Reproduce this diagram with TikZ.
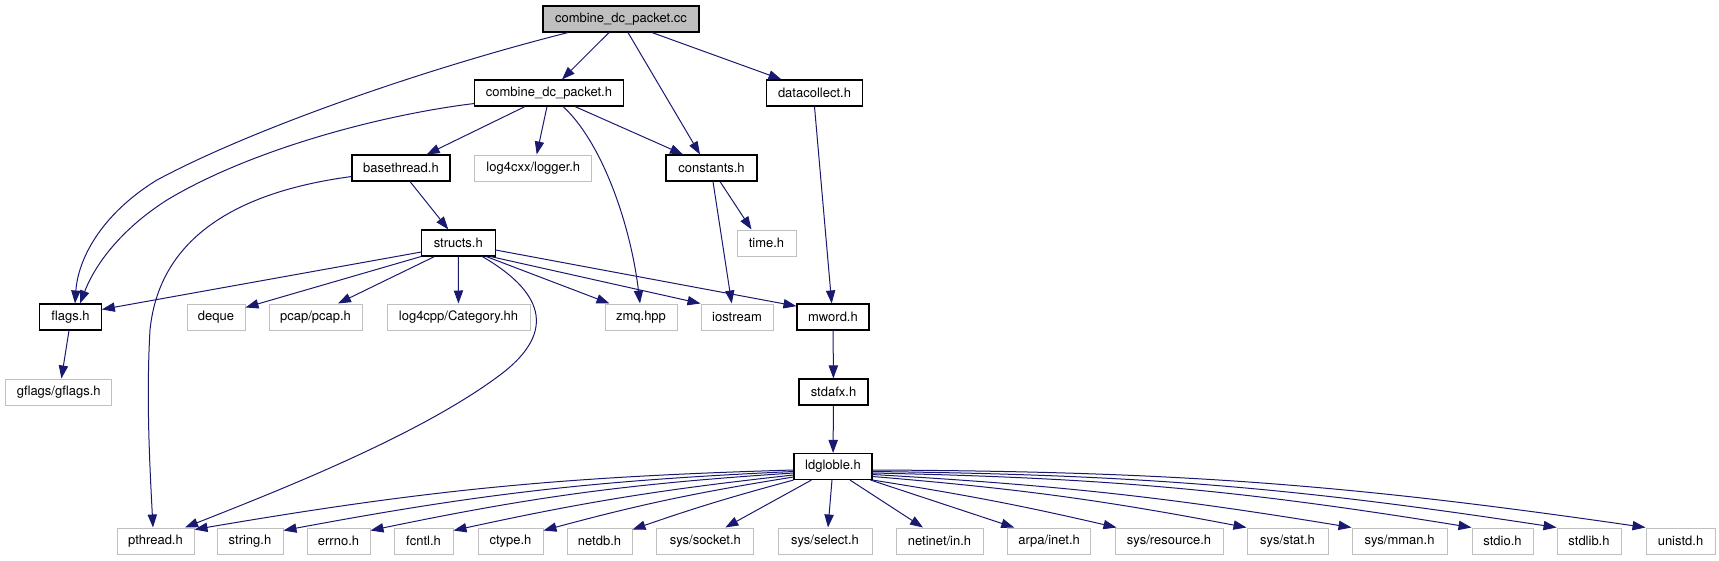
\documentclass[tikz,border=0pt]{standalone}
\usepackage{fontspec}
\setmainfont{TeX Gyre Heros}
\usetikzlibrary{arrows.meta}
\definecolor{edgeblue}{HTML}{191970}
\definecolor{extgrey}{HTML}{BFBFBF}
\begin{document}
\begin{tikzpicture}[x=1pt,y=-1pt,
  box/.style={draw=black, line width=1.1pt, minimum height=26pt, inner sep=0pt,
    font=\fontsize{13}{15}\selectfont, anchor=center},
  ext/.style={box, draw=extgrey, line width=1pt},
  topbox/.style={box, fill=extgrey},
  e/.style={draw=edgeblue, line width=1pt, -{Triangle[length=13pt,width=9.3pt]}},
]
\useasboundingbox (0,0) rectangle (1719,560);
% row 1
\node[topbox, minimum width=156pt] (cc) at (621,19) {combine\_dc\_packet.cc};
% row 2
\node[box, minimum width=149pt] (cdh) at (549,93) {combine\_dc\_packet.h};
\node[box, minimum width=96pt] (dc) at (814.5,93) {datacollect.h};
% row 3
\node[box, minimum width=98pt] (bt) at (401,168) {basethread.h};
\node[ext, minimum width=117pt] (l4x) at (533.3,168) {log4cxx/logger.h};
\node[box, minimum width=91pt] (con) at (711.5,168) {constants.h};
% row 4
\node[box, minimum width=73.5pt] (st) at (458.3,243) {structs.h};
\node[ext, minimum width=59pt] (tm) at (766.5,243) {time.h};
% row 5
\node[box, minimum width=61.6pt] (fl) at (70.5,317) {flags.h};
\node[ext, minimum width=58pt] (dq) at (216,317) {deque};
\node[ext, minimum width=93pt] (pc) at (315.5,317) {pcap/pcap.h};
\node[ext, minimum width=143pt] (l4c) at (458.5,317) {log4cpp/Category.hh};
\node[ext, minimum width=72pt] (zmq) at (641,317) {zmq.hpp};
\node[ext, minimum width=72pt] (ios) at (737,317) {iostream};
\node[box, minimum width=72pt] (mw) at (833,317) {mword.h};
% row 6
\node[ext, minimum width=106.5pt] (gf) at (58.7,392) {gflags/gflags.h};
\node[box, minimum width=69pt] (sfx) at (833.5,392) {stdafx.h};
% row 7
\node[box, minimum width=78pt] (ld) at (833,466.5) {ldgloble.h};
% row 8
\node[ext, minimum width=77pt] (pt) at (155.5,541) {pthread.h};
\node[ext, minimum width=66pt] (str) at (250,541) {string.h};
\node[ext, minimum width=63pt] (err) at (338.5,541) {errno.h};
\node[ext, minimum width=59pt] (fc) at (423.5,541) {fcntl.h};
\node[ext, minimum width=65pt] (ct) at (510.5,541) {ctype.h};
\node[ext, minimum width=65pt] (nd) at (599.5,541) {netdb.h};
\node[ext, minimum width=97pt] (sk) at (705.3,541) {sys/socket.h};
\node[ext, minimum width=94pt] (sel) at (825,541) {sys/select.h};
\node[ext, minimum width=87pt] (ni) at (939.5,541) {netinet/in.h};
\node[ext, minimum width=83pt] (ai) at (1049.2,541) {arpa/inet.h};
\node[ext, minimum width=108pt] (res) at (1169,541) {sys/resource.h};
\node[ext, minimum width=81pt] (sst) at (1287.5,541) {sys/stat.h};
\node[ext, minimum width=95pt] (mm) at (1399.5,541) {sys/mman.h};
\node[ext, minimum width=61pt] (sio) at (1502.5,541) {stdio.h};
\node[ext, minimum width=64pt] (slb) at (1589,541) {stdlib.h};
\node[ext, minimum width=69pt] (un) at (1680.5,541) {unistd.h};

% edges from combine_dc_packet.cc
\draw[e] ([xshift=-53pt]cc.south) .. controls (420,70) and (250,130) .. (157,180)
   .. controls (100,215) and (78,260) .. ([xshift=4.5pt]fl.north);
\draw[e] ([xshift=-12pt]cc.south) -- ([xshift=13pt]cdh.north);
\draw[e] ([xshift=7pt]cc.south) -- ([xshift=-11.5pt]con.north);
\draw[e] ([xshift=31pt]cc.south) -- ([xshift=-33pt]dc.north);
% edges from combine_dc_packet.h
\draw[e] ([yshift=3pt]cdh.south west) .. controls (380,115) and (250,150) .. (167,200)
   .. controls (120,230) and (95,265) .. ([xshift=9.5pt]fl.north);
\draw[e] ([xshift=-24pt]cdh.south) -- ([xshift=25.7pt]bt.north);
\draw[e] ([xshift=-2pt]cdh.south) -- ([xshift=3.4pt]l4x.north);
\draw[e] ([xshift=14pt]cdh.south) .. controls (600,140) and (630,220) .. ([xshift=-1pt]zmq.north);
\draw[e] ([xshift=26pt]cdh.south) -- ([xshift=-28.5pt]con.north);
% datacollect
\draw[e] (dc.south) -- ([xshift=-1.3pt]mw.north);
% basethread
\draw[e] ([yshift=5pt]bt.south west) .. controls (250,190) and (160,230) .. (150,330)
   .. controls (146,400) and (150,470) .. ([xshift=-2.5pt]pt.north);
\draw[e] ([xshift=9pt]bt.south) -- ([xshift=-10pt]st.north);
% constants
\draw[e] ([xshift=1.5pt]con.south) -- ([xshift=-5.3pt]ios.north);
\draw[e] ([xshift=8.5pt]con.south) -- ([xshift=-15pt]tm.north);
% structs
\draw[e] ([yshift=4.5pt]st.south west) -- ([yshift=-6pt]fl.north east);
\draw[e] (st.south west) -- ([yshift=-4pt]dq.north east);
\draw[e] ([xshift=13.5pt]st.south west) -- ([xshift=22.5pt]pc.north);
\draw[e] (st) -- (l4c);
\draw[e] ([xshift=24pt]st.south) .. controls (540,290) and (560,330) .. (500,375)
   .. controls (420,435) and (280,490) .. ([xshift=29.5pt]pt.north);
\draw[e] ([xshift=28pt]st.south) -- ([xshift=5pt]zmq.north west);
\draw[e] ([xshift=-5pt]st.south east) -- (ios.north west);
\draw[e] ([yshift=-7pt]st.east) -- ([yshift=-2.7pt]mw.north west);
% flags, mword, stdafx
\draw[e] ([xshift=-1.5pt]fl.south) -- ([xshift=2.7pt]gf.north);
\draw[e] (mw) -- (sfx);
\draw[e] (sfx) -- (ld);
% ldgloble fan
\draw[e] ([yshift=-3.5pt]ld.west) to[bend right=4] ([yshift=-2pt]pt.north east);
\draw[e] ([yshift=-5pt]ld.west) to[bend right=4] ([yshift=-3pt]str.north east);
\draw[e] ([yshift=-6.5pt]ld.west) to[bend right=4] ([yshift=-3pt]err.north east);
\draw[e] ([yshift=-8.5pt]ld.west) to[bend right=3] ([yshift=-3pt]fc.north east);
\draw[e] ([yshift=-10.5pt]ld.west) to[bend right=3] ([yshift=-3pt]ct.north east);
\draw[e] (ld.south west) to[bend right=2] ([yshift=-2pt]nd.north east);
\draw[e] ([xshift=18pt]ld.south west) -- ([xshift=20pt]sk.north);
\draw[e] ([xshift=-1pt]ld.south) -- ([xshift=3pt]sel.north);
\draw[e] ([xshift=17pt]ld.south) -- ([xshift=-16.5pt]ni.north);
\draw[e] ([xshift=-2pt]ld.south east) -- ([xshift=7pt]ai.north west);
\draw[e] (ld.south east) to[bend left=2] ([xshift=2pt]res.north west);
\draw[e] ([yshift=-10pt]ld.east) to[bend left=3] (sst.north west);
\draw[e] ([yshift=-8pt]ld.east) to[bend left=3] (mm.north west);
\draw[e] ([yshift=-6.5pt]ld.east) to[bend left=4] (sio.north west);
\draw[e] ([yshift=-5pt]ld.east) to[bend left=4] (slb.north west);
\draw[e] ([yshift=-3.5pt]ld.east) to[bend left=4] (un.north west);
\end{tikzpicture}
\end{document}
